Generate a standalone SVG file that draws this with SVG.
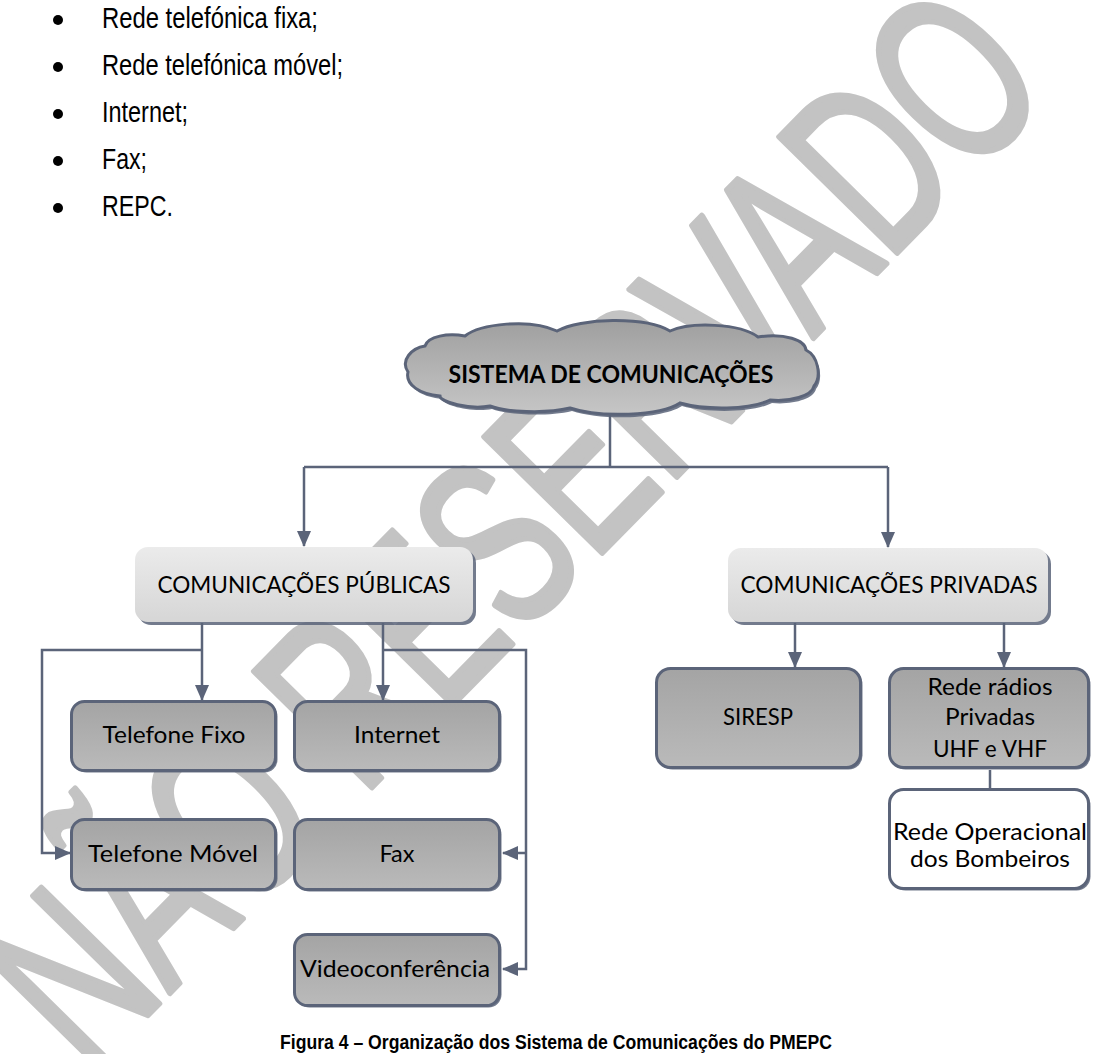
<svg xmlns="http://www.w3.org/2000/svg" width="1093" height="1054" viewBox="0 0 1093 1054">
<defs>
  <linearGradient id="gDark" x1="0" y1="0" x2="0" y2="1"><stop offset="0" stop-color="#a4a4a4"/><stop offset="1" stop-color="#bababa"/></linearGradient>
  <linearGradient id="gLight" x1="0" y1="0" x2="0" y2="1"><stop offset="0" stop-color="#ebebeb"/><stop offset="1" stop-color="#d6d6d6"/></linearGradient>
  <linearGradient id="gCloud" x1="0" y1="0" x2="0" y2="1"><stop offset="0" stop-color="#9f9f9f"/><stop offset="1" stop-color="#c6c6c6"/></linearGradient>
  <marker id="arr" markerWidth="16" markerHeight="16" refX="15" refY="8" orient="auto" markerUnits="userSpaceOnUse"><path d="M0,1 L16,8 L0,15 z" fill="#5b6479"/></marker>
</defs>
<style>
  .bul{font-family:"Liberation Sans",Arial,sans-serif;font-size:29px;fill:#000}
  .lbl{font-family:Lato,"Open Sans",sans-serif;font-size:24px;fill:#000;text-anchor:middle}
  .dark{fill:url(#gDark);stroke:#5b6479;stroke-width:3}
  .white{fill:#fff;stroke:#5b6479;stroke-width:3}
  .shadow{fill:#5b6479;opacity:.85}
  .light{fill:url(#gLight)}
  .conn{fill:none;stroke:#5b6479;stroke-width:2.5}
  .wm{font-family:"Liberation Sans",Arial,sans-serif;font-size:240px;fill:#c3c3c3;stroke:#c3c3c3;stroke-width:6;stroke-linejoin:round}
  .cap{font-family:"Liberation Sans",Arial,sans-serif;font-weight:bold;font-size:20px;fill:#000}
</style>

<g id="watermark">
  <text class="wm" transform="translate(88,1076) rotate(-45.5)" textLength="1380" lengthAdjust="spacingAndGlyphs">NÃO RESERVADO</text>
</g>

<g id="bullets">
  <circle cx="58" cy="20" r="5"/><text class="bul" x="102" y="28" textLength="216" lengthAdjust="spacingAndGlyphs">Rede telefónica fixa;</text>
  <circle cx="58" cy="67" r="5"/><text class="bul" x="102" y="75" textLength="241" lengthAdjust="spacingAndGlyphs">Rede telefónica móvel;</text>
  <circle cx="58" cy="114" r="5"/><text class="bul" x="102" y="122" textLength="86" lengthAdjust="spacingAndGlyphs">Internet;</text>
  <circle cx="58" cy="161" r="5"/><text class="bul" x="102" y="169" textLength="45" lengthAdjust="spacingAndGlyphs">Fax;</text>
  <circle cx="58" cy="208" r="5"/><text class="bul" x="102" y="216" textLength="71" lengthAdjust="spacingAndGlyphs">REPC.</text>
</g>

<g id="connectors">
  <path class="conn" d="M610,415 V467"/>
  <path class="conn" d="M304,467 H888"/>
  <path class="conn" d="M304,467 V546" marker-end="url(#arr)"/>
  <path class="conn" d="M888,467 V547" marker-end="url(#arr)"/>
  <path class="conn" d="M202,623 V700" marker-end="url(#arr)"/>
  <path class="conn" d="M383,623 V700" marker-end="url(#arr)"/>
  <path class="conn" d="M202,650 H42 V853 H70" marker-end="url(#arr)"/>
  <path class="conn" d="M383,650 H526 V969 H503" marker-end="url(#arr)"/>
  <path class="conn" d="M526,853 H503" marker-end="url(#arr)"/>
  <path class="conn" d="M795,623 V667" marker-end="url(#arr)"/>
  <path class="conn" d="M1004,623 V667" marker-end="url(#arr)"/>
  <path class="conn" d="M990,770 V788"/>
</g>

<g id="sistema">
  <path class="shadow" transform="translate(2,3)" d="M408,372 C400,360 412,348 425,346 C428,336 448,333 465,336 C480,324 530,318 557,331 C580,318 645,316 670,331 C690,322 740,323 758,337 C785,333 805,340 806,350 C818,356 822,376 814,386 C812,396 790,402 770,400 C750,410 705,410 680,403 C660,416 600,418 570,408 C545,414 505,412 490,406 C470,410 440,402 440,396 C420,394 405,385 408,372 Z"/>
  <path fill="url(#gCloud)" stroke="#5b6479" stroke-width="3" d="M408,372 C400,360 412,348 425,346 C428,336 448,333 465,336 C480,324 530,318 557,331 C580,318 645,316 670,331 C690,322 740,323 758,337 C785,333 805,340 806,350 C818,356 822,376 814,386 C812,396 790,402 770,400 C750,410 705,410 680,403 C660,416 600,418 570,408 C545,414 505,412 490,406 C470,410 440,402 440,396 C420,394 405,385 408,372 Z"/>
  <text class="lbl" x="611" y="383" font-weight="bold" font-size="28" textLength="325" lengthAdjust="spacingAndGlyphs">SISTEMA DE COMUNICAÇÕES</text>
</g>

<g id="publicas">
  <rect class="shadow" x="138" y="550" width="338" height="75" rx="13"/>
  <rect class="light" x="135" y="547" width="338" height="75" rx="13"/>
  <text class="lbl" x="304" y="593" textLength="293" lengthAdjust="spacingAndGlyphs">COMUNICAÇÕES PÚBLICAS</text>
</g>

<g id="privadas">
  <rect class="shadow" x="731" y="551" width="320" height="74" rx="13"/>
  <rect class="light" x="728" y="548" width="320" height="74" rx="13"/>
  <text class="lbl" x="889" y="593" textLength="297" lengthAdjust="spacingAndGlyphs">COMUNICAÇÕES PRIVADAS</text>
</g>

<g id="fixo">
  <rect class="shadow" x="73.5" y="703.5" width="204" height="69" rx="13"/>
  <rect class="dark" x="71.5" y="701.5" width="204" height="69" rx="13"/>
  <text class="lbl" x="174" y="743" textLength="143" lengthAdjust="spacingAndGlyphs">Telefone Fixo</text>
</g>

<g id="internet">
  <rect class="shadow" x="296.5" y="703.5" width="205" height="69" rx="13"/>
  <rect class="dark" x="294.5" y="701.5" width="205" height="69" rx="13"/>
  <text class="lbl" x="397" y="743" textLength="86" lengthAdjust="spacingAndGlyphs">Internet</text>
</g>

<g id="movel">
  <rect class="shadow" x="73.5" y="821.5" width="204" height="70" rx="13"/>
  <rect class="dark" x="71.5" y="819.5" width="204" height="70" rx="13"/>
  <text class="lbl" x="173" y="862" textLength="170" lengthAdjust="spacingAndGlyphs">Telefone Móvel</text>
</g>

<g id="fax">
  <rect class="shadow" x="296.5" y="821.5" width="205" height="70" rx="13"/>
  <rect class="dark" x="294.5" y="819.5" width="205" height="70" rx="13"/>
  <text class="lbl" x="397" y="862" textLength="35" lengthAdjust="spacingAndGlyphs">Fax</text>
</g>

<g id="video">
  <rect class="shadow" x="296.5" y="936.5" width="205" height="71" rx="13"/>
  <rect class="dark" x="294.5" y="934.5" width="205" height="71" rx="13"/>
  <text class="lbl" x="395" y="977" textLength="190" lengthAdjust="spacingAndGlyphs">Videoconferência</text>
</g>

<g id="siresp">
  <rect class="shadow" x="658.5" y="670.5" width="204" height="99" rx="14"/>
  <rect class="dark" x="656.5" y="668.5" width="204" height="99" rx="14"/>
  <text class="lbl" x="758" y="725" textLength="70" lengthAdjust="spacingAndGlyphs">SIRESP</text>
</g>

<g id="radios">
  <rect class="shadow" x="891.5" y="670.5" width="199" height="99" rx="14"/>
  <rect class="dark" x="889.5" y="668.5" width="199" height="99" rx="14"/>
  <text class="lbl" x="990" y="695" textLength="125" lengthAdjust="spacingAndGlyphs">Rede rádios</text>
  <text class="lbl" x="990" y="725" textLength="90" lengthAdjust="spacingAndGlyphs">Privadas</text>
  <text class="lbl" x="990" y="757" textLength="114" lengthAdjust="spacingAndGlyphs">UHF e VHF</text>
</g>

<g id="operacional">
  <rect class="shadow" x="891.5" y="791.5" width="199" height="99" rx="14"/>
  <rect class="white" x="889.5" y="789.5" width="199" height="99" rx="14"/>
  <text class="lbl" x="990" y="840" textLength="194" lengthAdjust="spacingAndGlyphs">Rede Operacional</text>
  <text class="lbl" x="990" y="867" textLength="160" lengthAdjust="spacingAndGlyphs">dos Bombeiros</text>
</g>

<g id="caption">
  <text class="cap" x="280" y="1049" textLength="552" lengthAdjust="spacingAndGlyphs">Figura 4 – Organização dos Sistema de Comunicações do PMEPC</text>
</g>
</svg>
